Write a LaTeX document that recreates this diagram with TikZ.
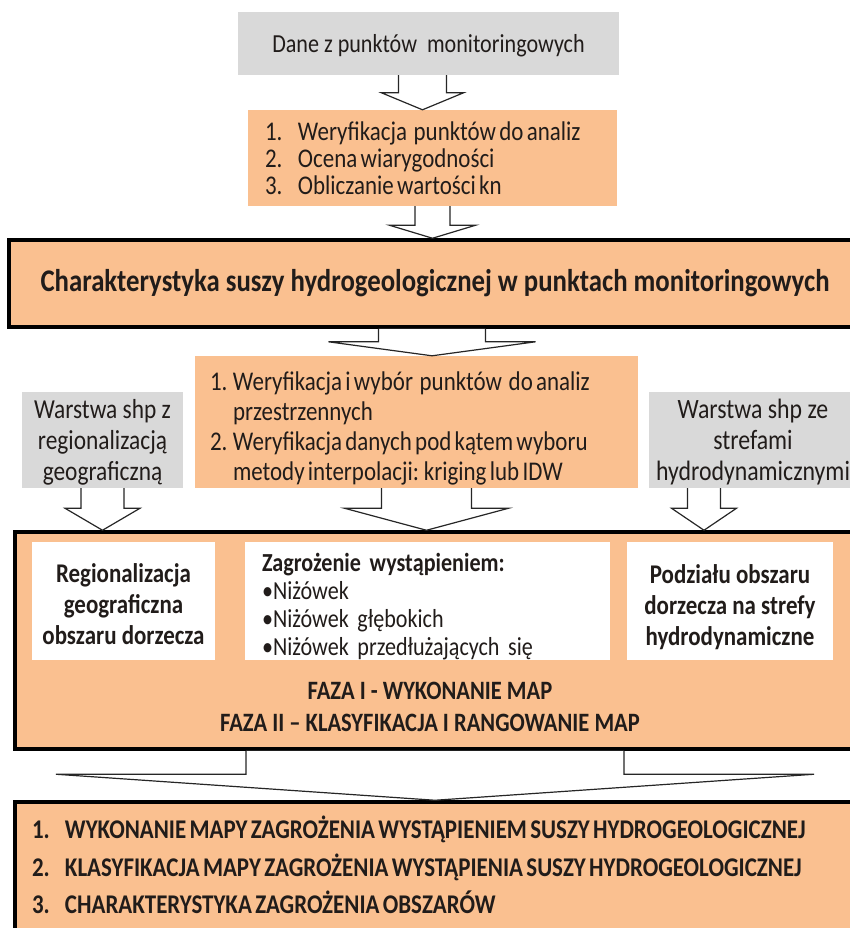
\documentclass[tikz,border=0pt]{standalone}
\usepackage{fontspec}
\setmainfont{Carlito}[FakeStretch=0.85]
\usetikzlibrary{calc}

\definecolor{boxorange}{RGB}{250,192,144}
\definecolor{boxgrey}{RGB}{217,217,217}
\definecolor{ink}{RGB}{33,28,26}

\newcommand{\fsz}[2]{\fontsize{#1}{#2}\selectfont}
\newcommand{\shiftdown}[2]{\raisebox{-#1}[\height][\depth]{#2}}
% hollow block arrow: (shaft top) (tip) shaft-half head-half head-length
\newcommand{\fatarrow}[5]{%
  \draw[hollow] let \p1=(#1), \p2=(#2) in
    (\x1-#3,\y1) -- (\x1-#3,\y2+#5) -- (\x1-#4,\y2+#5) -- (\x1,\y2)
    -- (\x1+#4,\y2+#5) -- (\x1+#3,\y2+#5) -- (\x1+#3,\y1);}

\tikzset{
  sized/.style 2 args={minimum width=#1pt, minimum height=#2pt},
  greybox/.style={fill=boxgrey, inner sep=0pt, align=center, text=ink},
  orangebox/.style={fill=boxorange, inner sep=0pt, text=ink},
  mainbox/.style={fill=boxorange, draw=black, line width=3.5pt, inner sep=0pt, text=ink},
  whitebox/.style={fill=white, inner sep=0pt, text=ink},
  hollow/.style={draw=black!85, fill=white, line width=1.2pt, line join=miter},
}

\begin{document}
\begin{tikzpicture}[x=1pt, y=-1pt]
  \useasboundingbox (0,0) rectangle (849,928);

  % top: data and checks
  \node[greybox, sized={381}{63}, font=\fsz{26}{30}] (dane) at (428.5,43.5)
    {\shiftdown{2pt}{Dane z punktów\ \ monitoringowych}};
  \node[orangebox, sized={369}{96}, text width=335pt, inner xsep=17pt, align=left] (weryf) at (432.5,158)
    {\fsz{27}{27}\shiftdown{4pt}{\begin{tabular}{@{}p{33pt}@{}l@{}}
      1.&Weryfikacja\ \ punktów do analiz\\
      2.&Ocena wiarygodności\\
      3.&Obliczanie wartości kn
    \end{tabular}}};
  \node[mainbox, sized={852}{87}, font=\fsz{31.5}{34}\bfseries] (charakt) at (435,283.5)
    {Charakterystyka suszy hydrogeologicznej w punktach monitoringowych};

  % middle row
  \node[greybox, sized={161}{96}, font=\fsz{27.5}{31}] (warstwaR) at (102.5,440)
    {\shiftdown{3pt}{\begin{tabular}{@{}c@{}}Warstwa shp z\\regionalizacją\\geograficzną\end{tabular}}};
  \node[orangebox, sized={443}{132}, text width=413pt, inner xsep=15pt, align=left] (interp) at (416.5,422)
    {\fsz{27}{30}\shiftdown{7pt}{\begin{tabular}{@{}p{23pt}@{}l@{}}
      1.&Weryfikacja i wybór\ \ punktów\ \ do analiz\\
        &przestrzennych\\
      2.&Weryfikacja danych pod kątem wyboru\\
        &metody interpolacji: kriging lub IDW
    \end{tabular}}};
  \node[greybox, sized={208}{96}, font=\fsz{28}{31}] (warstwaS) at (753,440)
    {\shiftdown{3pt}{\begin{tabular}{@{}c@{}}Warstwa shp ze\\strefami\\hydrodynamicznymi\end{tabular}}};

  % phases
  \node[mainbox, sized={846}{217}] (mapy) at (438,640.5) {};
  \node[whitebox, sized={183}{118}, font=\fsz{27}{31}\bfseries] (region) at (123.5,601)
    {\shiftdown{6pt}{\begin{tabular}{@{}c@{}}Regionalizacja\\geograficzna\\obszaru dorzecza\end{tabular}}};
  \node[whitebox, sized={365}{118}, text width=331pt, inner xsep=17pt, align=left, font=\fsz{26}{28}] (zagr) at (427.5,601)
    {\shiftdown{7pt}{\begin{tabular}{@{}l@{}}\textbf{Zagrożenie wystąpieniem:}\\•Niżówek\\•Niżówek głębokich\\•Niżówek przedłużających się\end{tabular}}};
  \node[whitebox, sized={206}{118}, font=\fsz{27}{31}\bfseries] (strefy) at (730,601)
    {\shiftdown{7pt}{\begin{tabular}{@{}c@{}}Podziału obszaru\\dorzecza na strefy\\hydrodynamiczne\end{tabular}}};
  \node[align=center, text=ink, font=\fsz{26.5}{32}\bfseries] (faza) at (430,707)
    {FAZA I - WYKONANIE MAP\\FAZA II – KLASYFIKACJA I RANGOWANIE MAP};

  % result
  \node[mainbox, sized={846}{133}, text width=812pt, inner xsep=17pt, align=left] (wynik) at (438,868.5)
    {\fsz{27}{37.5}\bfseries\begin{tabular}{@{}p{33pt}@{}l@{}}
      1.&WYKONANIE MAPY ZAGROŻENIA WYSTĄPIENIEM SUSZY HYDROGEOLOGICZNEJ\\
      2.&KLASYFIKACJA MAPY ZAGROŻENIA WYSTĄPIENIA SUSZY HYDROGEOLOGICZNEJ\\
      3.&CHARAKTERYSTYKA ZAGROŻENIA OBSZARÓW
    \end{tabular}};

  % arrows
  \fatarrow{[xshift=-6pt]dane.south}{weryf.north}{24pt}{41pt}{17pt}
  \fatarrow{weryf.south}{charakt.north}{17.5pt}{43pt}{13pt}
  \fatarrow{[xshift=-3pt]charakt.south}{interp.north}{53.5pt}{103.5pt}{14pt}
  \fatarrow{warstwaR.south}{mapy.north}{21.5pt}{37.5pt}{22pt}
  \fatarrow{[xshift=10pt]interp.south}{mapy.north}{45pt}{82pt}{22pt}
  \fatarrow{[xshift=-49pt]warstwaS.south}{mapy.north}{16.5pt}{32.5pt}{22pt}
  \fatarrow{[xshift=-3pt]mapy.south}{wynik.north}{189pt}{379pt}{26pt}
\end{tikzpicture}
\end{document}
